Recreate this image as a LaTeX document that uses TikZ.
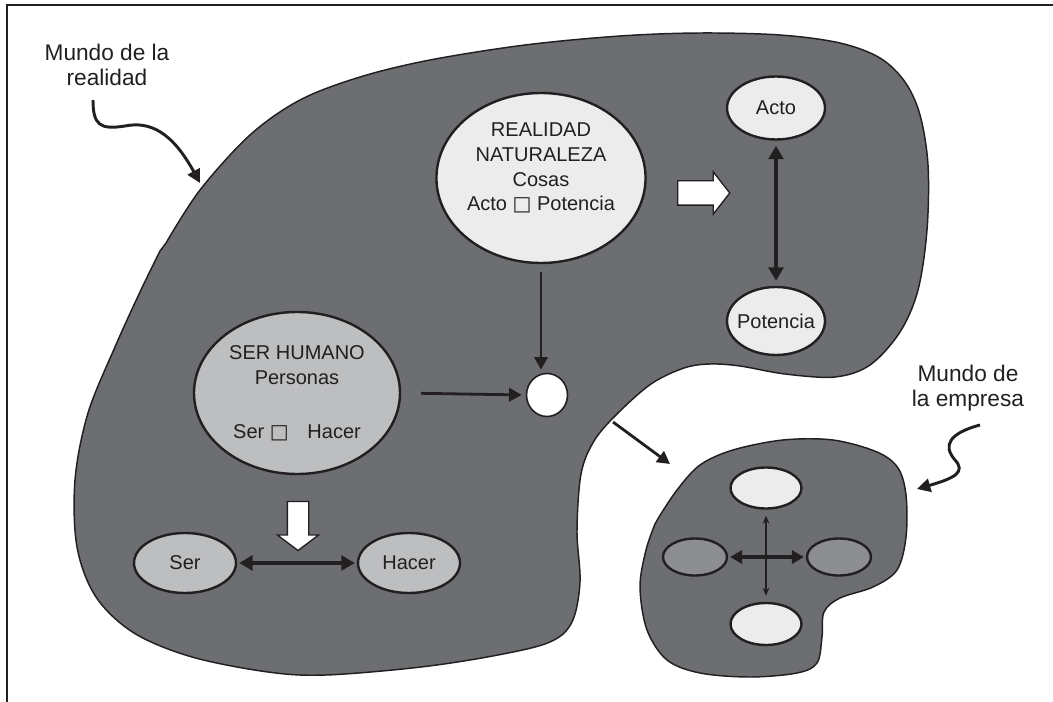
\documentclass[tikz,border=0pt]{standalone}
\usepackage{fontspec}
\setmainfont{Liberation Sans}
\newfontfamily\dvsym{DejaVu Sans}
\usetikzlibrary{arrows.meta,shapes.geometric,shapes.arrows}
\newlength\pxu
\setlength\pxu{0.75pt}
\definecolor{ink}{HTML}{231F20}
\definecolor{blobc}{HTML}{6D6E71}
\definecolor{lightf}{HTML}{EBECEB}
\definecolor{midf}{HTML}{BDBEC0}
\definecolor{darkf}{HTML}{8D8E91}
\begin{document}
\begin{tikzpicture}[x=0.75pt,y=-0.75pt,
  every node/.style={text=ink},
  ell/.style={ellipse, draw=ink, line width=1.8pt, inner sep=0pt, align=center,
    font=\fontsize{15}{18.5}\selectfont},
  blobshape/.style={fill=blobc, draw=ink, line width=1.1pt},
  dbl/.style={draw=ink, line width=2.9pt,
    {Triangle[length=10pt,width=11pt]}-{Triangle[length=10pt,width=11pt]}},
  smalldbl/.style={draw=ink, line width=2.5pt,
    {Triangle[length=9pt,width=10pt]}-{Triangle[length=9pt,width=10pt]}},
  thindbl/.style={draw=ink, line width=1.1pt,
    {Stealth[length=6pt,width=5pt]}-{Stealth[length=6pt,width=5pt]}},
  onearr/.style={draw=ink, line width=2.1pt, -{Triangle[length=9.5pt,width=10pt]}},
  squig/.style={draw=ink, line width=2.2pt, -{Triangle[length=10pt,width=10pt]}},
  blockarr/.style={single arrow, draw=ink, fill=white, line width=1pt, inner xsep=0pt},
  lbl/.style={align=center, font=\fontsize{17}{18.5}\selectfont}
]
\useasboundingbox (0,0) rectangle (1053,702);
% frame
\draw[ink, line width=1.5pt] (7,702) -- (7,5) -- (1053,5);

% main blob
\draw[blobshape] plot[smooth, tension=0.55] coordinates {
 (166,243) (200,190) (250,135) (300,100) (360,77) (430,60) (525,45) (620,36)
 (700,33) (780,35) (840,43) (880,58) (905,82) (920,115) (928,165) (927,230)
 (918,290) (900,332) (870,365) (835,377) (785,374) (740,366) (710,364) (684,368)
 (651,384) (617,414) (594,441) (581,474) (577,531) (580,582) (572,622) (550,642)
 (498,655) (421,667) (326,675) (268,672) (192,657) (134,633) (96,597) (77,547)
 (75,480) (88,413) (115,347) (140,292) (160,251)} -- cycle;

% small blob
\draw[blobshape] plot[smooth, tension=0.55] coordinates {
 (659,517) (677,490) (700,465) (733,450) (783,440) (833,440) (877,452) (898,468)
 (906,495) (906,537) (897,570) (873,587) (840,598) (824,612) (822,637) (817,663)
 (797,673) (750,677) (700,673) (667,660) (647,630) (640,587) (646,550) (655,524)} -- cycle;

% labels
\node[lbl] (mr) at (107,65) {Mundo de la\\realidad};
\node[lbl] (me) at (968,388) {Mundo de\\la empresa};

% squiggle arrows
\coordinate (q1) at (93,100);
\coordinate (q2) at (200,183);
\coordinate (q3) at (980,425);
\coordinate (q4) at (917,489);
\draw[squig] (q1) .. controls (93,125) and (100,130) .. (125,126)
  .. controls (150,121) and (172,132) .. (q2);
\draw[squig] (q3) .. controls (950,433) and (942,445) .. (955,460)
  .. controls (966,472) and (955,478) .. (q4);

% nodes of the main blob
\node[ell, fill=lightf, minimum width=208\pxu, minimum height=170\pxu] (real) at (541,178)
  {REALIDAD\\NATURALEZA\\Cosas\\Acto {\dvsym □} Potencia\\[-2pt]\mbox{}};
\node[ell, fill=lightf, minimum width=98\pxu, minimum height=63\pxu] (acto) at (776,108) {Acto};
\node[ell, fill=lightf, minimum width=98\pxu, minimum height=68\pxu] (pot) at (776,321)
  {\makebox[0pt]{Potencia}};
\node[ell, fill=midf, minimum width=206\pxu, minimum height=162\pxu] (hum) at (297,393)
  {SER HUMANO\\Personas\\[22pt]Ser {\dvsym □}\hspace{14pt}Hacer};
\node[ell, fill=midf, minimum width=102\pxu, minimum height=60\pxu] (ser) at (185,563) {Ser};
\node[ell, fill=midf, minimum width=102\pxu, minimum height=60\pxu] (hacer) at (409,563) {Hacer};
\node[ellipse, draw=ink, fill=white, line width=1.2pt, inner sep=0pt,
  minimum width=41\pxu, minimum height=43\pxu] (circ) at (547,395) {};

% block arrows
\node[blockarr, inner ysep=11.5\pxu, single arrow head extend=9\pxu,
  single arrow tip angle=104, minimum height=52\pxu] (barr1) at (699,193) {};
\node[blockarr, inner ysep=10\pxu, single arrow head extend=10\pxu,
  single arrow tip angle=106, minimum height=49\pxu, rotate=-90] (barr2) at (298,522) {};

% connectors main blob
\draw[dbl, shorten <=5\pxu, shorten >=5\pxu] (acto.south) -- (pot.north);
\draw[onearr, shorten <=8\pxu, shorten >=3\pxu] (real.south) -- (real.south |- circ.north);
\draw[onearr, shorten <=20\pxu, shorten >=4\pxu] (hum.east) -- (circ.west);
\draw[dbl, shorten <=2\pxu, shorten >=2\pxu] (ser.east) -- (hacer.west);

% arrow to the small blob
\coordinate (ba) at (613,422);
\coordinate (bb) at (670,464);
\draw[onearr] (ba) -- (bb);

% small blob nodes
\node[ell, fill=lightf, minimum width=71\pxu, minimum height=41\pxu] (st) at (766,488) {};
\node[ell, fill=lightf, minimum width=71\pxu, minimum height=42\pxu] (sb) at (766,624) {};
\node[ell, fill=darkf, minimum width=64\pxu, minimum height=37\pxu] (sl) at (695,557) {};
\node[ell, fill=darkf, minimum width=64\pxu, minimum height=37\pxu] (sr) at (839,557) {};
\draw[smalldbl, shorten <=2\pxu, shorten >=2\pxu] (sl.east) -- (sr.west);
\draw[thindbl, shorten <=6\pxu, shorten >=6\pxu] (st.south) -- (sb.north);
\end{tikzpicture}
\end{document}
